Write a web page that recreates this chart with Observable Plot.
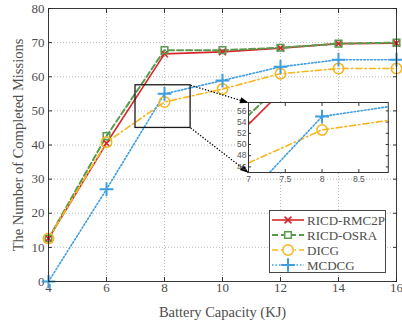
<!DOCTYPE html>
<html>
<head>
<meta charset="utf-8">
<script src="https://cdn.jsdelivr.net/npm/d3@7"></script>
<script src="https://cdn.jsdelivr.net/npm/@observablehq/plot@0.6"></script>
<style>
  html, body { margin: 0; padding: 0; background: white; }
  #wrap { position: relative; width: 402px; height: 327px; }
  #wrap > * { position: absolute; }
</style>
</head>
<body>
<div id="wrap"></div>
<script>
// ---- data ----
const capacity = [4, 6, 8, 10, 12, 14, 16];
const seriesNames = ["RICD-RMC2P", "RICD-OSRA", "DICG", "MCDCG"];
const rmc2p = [12.6, 40.5, 66.7, 67.3, 68.4, 69.7, 69.8];
const osra  = [12.6, 42.6, 67.8, 67.8, 68.5, 69.7, 70.0];
const dicg  = [12.6, 40.8, 52.6, 56.4, 60.9, 62.4, 62.4];
const mcdcg = [0.0, 27.0, 55.0, 58.9, 62.9, 65.0, 65.0];
const xTicks = [4, 6, 8, 10, 12, 14, 16];
const yTicks = [0, 10, 20, 30, 40, 50, 60, 70, 80];
const insetXTicks = [7, 7.5, 8, 8.5];
const insetYTicks = [46, 48, 50, 52, 54, 56];
const zoomX = [7, 8.9];
const zoomY = [45, 57.5];
const insetPlaceX = [10.9, 15.72];
const insetPlaceY = [31.85, 52.37];
const xLabel = "Battery Capacity (KJ)";
const yLabel = "The Number of Completed Missions";

const styles = [
  {color: "#d9262a", dash: null, width: 1.6, symbol: "times", r: 3.2, sw: 1.6},
  {color: "#5a9a4e", dash: "6,3", width: 2, symbol: "square2", r: 4.2, sw: 1.5},
  {color: "#f7b51b", dash: "6,3,1.5,3", width: 1.6, symbol: "circle", r: 5.2, sw: 1.5},
  {color: "#3c9de0", dash: "1.5,2", width: 1.6, symbol: "plus", r: 4.5, sw: 2}
];
const values = [rmc2p, osra, dicg, mcdcg];
const rows = [];
seriesNames.forEach((s, i) => capacity.forEach((c, j) => rows.push({series: s, idx: i, x: c, y: values[i][j]})));

function seriesMarks(clip) {
  const m = [];
  seriesNames.forEach((s, i) => {
    const st = styles[i];
    const d = rows.filter(r => r.idx === i);
    m.push(Plot.line(d, {x: "x", y: "y", stroke: st.color, strokeWidth: st.width, strokeDasharray: st.dash, clip}));
  });
  seriesNames.forEach((s, i) => {
    const st = styles[i];
    const d = rows.filter(r => r.idx === i);
    m.push(Plot.dot(d, {x: "x", y: "y", symbol: () => st.symbol, r: st.r, stroke: st.color, strokeWidth: st.sw, fill: "none", clip}));
  });
  return m;
}

const wrap = document.getElementById("wrap");
const textColor = "#4d4d4d";
const fmt = d => String(d);

const main = Plot.plot({
  width: 402, height: 327,
  marginLeft: 48, marginRight: 6, marginTop: 8, marginBottom: 46,
  style: {fontFamily: "Liberation Serif", fontSize: "13px", color: textColor, background: "white"},
  x: {domain: [4, 16]},
  y: {domain: [0, 80]},
  symbol: {type: "identity"},
  marks: [
    Plot.gridX(xTicks, {stroke: "#bbbbbb", strokeOpacity: 1, strokeDasharray: "1,2"}),
    Plot.gridY(yTicks, {stroke: "#bbbbbb", strokeOpacity: 1, strokeDasharray: "1,2"}),
    Plot.axisX(xTicks, {anchor: "bottom", tickSize: 0, tickPadding: 1, label: null, fontSize: 13, tickFormat: fmt}),
    Plot.axisY(yTicks, {anchor: "left", tickSize: 0, tickPadding: 4, label: null, fontSize: 13, tickFormat: fmt}),
    Plot.axisX(xTicks, {anchor: "bottom", tickSize: -4, tickFormat: () => "", label: null, stroke: "#333"}),
    Plot.axisX(xTicks, {anchor: "top", tickSize: -4, tickFormat: () => "", label: null, stroke: "#333"}),
    Plot.axisY(yTicks, {anchor: "left", tickSize: -4, tickFormat: () => "", label: null, stroke: "#333"}),
    Plot.axisY(yTicks, {anchor: "right", tickSize: -4, tickFormat: () => "", label: null, stroke: "#333"}),
    ...seriesMarks(false),
    Plot.rect([{x1: zoomX[0], x2: zoomX[1], y1: zoomY[0], y2: zoomY[1]}], {x1: "x1", x2: "x2", y1: "y1", y2: "y2", stroke: "#1a1a1a", strokeWidth: 1.3, fill: "none"}),
    Plot.link([
      {x1: zoomX[1], y1: zoomY[1], x2: insetPlaceX[0], y2: insetPlaceY[1]},
      {x1: zoomX[1], y1: zoomY[0], x2: insetPlaceX[0], y2: insetPlaceY[0]}
    ], {x1: "x1", y1: "y1", x2: "x2", y2: "y2", stroke: "black", strokeWidth: 1.3, strokeDasharray: "1.3,1.7", markerEnd: "arrow"}),
    Plot.frame({stroke: "#262626", strokeWidth: 0.9}),
    Plot.text([xLabel], {frameAnchor: "bottom", dy: 31, fontSize: 14.5, fill: textColor, lineAnchor: "middle", textAnchor: "middle"}),
    Plot.text([yLabel], {frameAnchor: "left", dx: -30, rotate: -90, fontSize: 14.5, fill: textColor, lineAnchor: "middle", textAnchor: "middle"})
  ]
});
main.style.left = "0px"; main.style.top = "0px";
// filled arrowheads
d3.select(main).selectAll("marker")
  .attr("fill", "black").attr("stroke", "none").attr("overflow", "visible")
  .attr("viewBox", "-10 -5 10 10")
  .selectAll("path").attr("d", "M-10,-3.6L0,0L-10,3.6Z").attr("stroke", "none").attr("fill", "black");
wrap.appendChild(main);

// ---- inset ----
const sx = main.scale("x"), sy = main.scale("y");
const iL = sx.apply(insetPlaceX[0]), iR = sx.apply(insetPlaceX[1]);
const iT = sy.apply(insetPlaceY[1]), iB = sy.apply(insetPlaceY[0]);
const mL = 18, mB = 14, mR = 1, mT = 1;
const inset = Plot.plot({
  width: (iR - iL) + mL + mR, height: (iB - iT) + mT + mB,
  marginLeft: mL, marginRight: mR, marginTop: mT, marginBottom: mB,
  style: {fontFamily: "Liberation Sans", fontSize: "8.5px", color: "#555", background: "transparent", overflow: "visible"},
  x: {domain: zoomX},
  y: {domain: zoomY},
  symbol: {type: "identity"},
  marks: [
    Plot.frame({fill: "white"}),
    Plot.axisX(insetXTicks, {anchor: "bottom", tickSize: 0, tickPadding: 3, label: null, fontSize: 8.5, tickFormat: fmt}),
    Plot.axisY(insetYTicks, {anchor: "left", tickSize: 0, tickPadding: 2, label: null, fontSize: 8.5, tickFormat: fmt}),
    Plot.axisX(insetXTicks, {anchor: "bottom", tickSize: -3, tickFormat: () => "", label: null, stroke: "#333"}),
    Plot.axisX(insetXTicks, {anchor: "top", tickSize: -3, tickFormat: () => "", label: null, stroke: "#333"}),
    Plot.axisY(insetYTicks, {anchor: "left", tickSize: -3, tickFormat: () => "", label: null, stroke: "#333"}),
    Plot.axisY(insetYTicks, {anchor: "right", tickSize: -3, tickFormat: () => "", label: null, stroke: "#333"}),
    ...seriesMarks(true),
    Plot.frame({stroke: "#333", strokeWidth: 1})
  ]
});
inset.style.left = (iL - mL) + "px";
inset.style.top = (iT - mT) + "px";
wrap.appendChild(inset);

// ---- legend ----
const lg = {left: 269, top: 210, width: 117, height: 63};
const leg = d3.create("svg").attr("width", lg.width).attr("height", lg.height)
  .style("left", lg.left + "px").style("top", lg.top + "px").style("position", "absolute");
leg.append("rect").attr("x", 0.5).attr("y", 0.5).attr("width", lg.width - 1).attr("height", lg.height - 1)
  .attr("fill", "white").attr("stroke", "#333").attr("stroke-width", 0.9);
const symMap = {times: d3.symbolTimes, square2: d3.symbolSquare2, circle: d3.symbolCircle, plus: d3.symbolPlus};
seriesNames.forEach((s, i) => {
  const st = styles[i];
  const y = 10 + i * 15;
  const g = leg.append("g");
  g.append("line").attr("x1", 3).attr("x2", 35).attr("y1", y).attr("y2", y)
    .attr("stroke", st.color).attr("stroke-width", st.width).attr("stroke-dasharray", st.dash);
  g.append("path").attr("transform", `translate(19,${y})`)
    .attr("d", d3.symbol(symMap[st.symbol], Math.PI * st.r * st.r)())
    .attr("fill", "white").attr("stroke", st.color).attr("stroke-width", st.sw);
  g.append("text").attr("x", 38).attr("y", y).attr("dy", "0.35em")
    .attr("font-family", "Liberation Serif").attr("font-size", 13).attr("fill", textColor).text(s);
});
wrap.appendChild(leg.node());
</script>
</body>
</html>
